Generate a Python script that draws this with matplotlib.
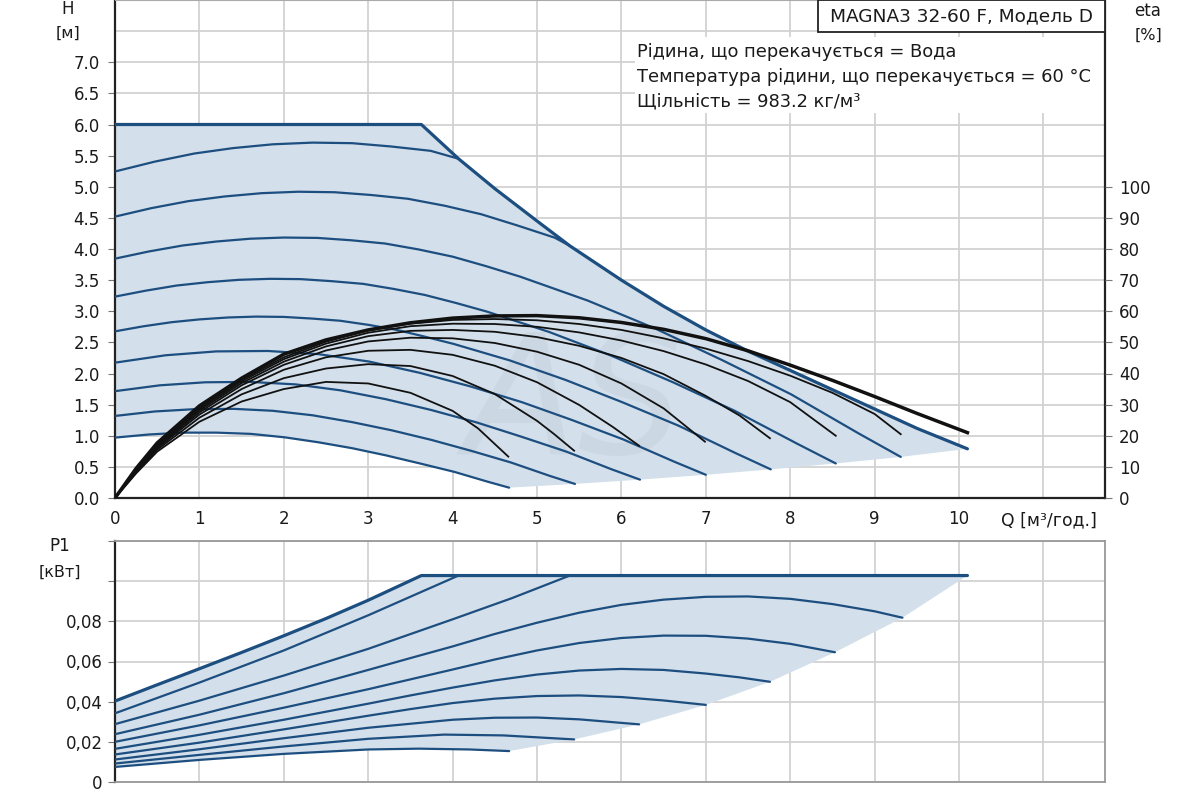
import numpy as np
import matplotlib
matplotlib.use("Agg")
import matplotlib.pyplot as plt
from matplotlib.patches import Rectangle

plt.rcParams["font.family"] = ["DejaVu Sans"]

# --- QH speed curves (Q in m3/h, H in m), lowest to highest ---
curve_q = [
    [0, 0.40, 0.80, 1.20, 1.61, 2.01, 2.41, 2.81, 3.21, 3.61, 4.02, 4.42, 4.67],
    [0, 0.47, 0.94, 1.41, 1.87, 2.34, 2.81, 3.28, 3.75, 4.22, 4.69, 5.15, 5.45],
    [0, 0.53, 1.07, 1.60, 2.14, 2.67, 3.21, 3.74, 4.28, 4.81, 5.35, 5.88, 6.22],
    [0, 0.60, 1.20, 1.81, 2.41, 3.01, 3.61, 4.21, 4.82, 5.42, 6.02, 6.62, 7.00],
    [0, 0.33, 0.67, 1.00, 1.34, 1.67, 2.00, 2.34, 2.67, 3.01, 3.34, 3.67, 4.01, 4.68,
     5.34, 6.01, 6.68, 7.35, 7.77],
    [0, 0.37, 0.73, 1.10, 1.47, 1.84, 2.20, 2.57, 2.94, 3.30, 3.67, 4.04, 4.41, 5.14,
     5.87, 6.61, 7.34, 8.08, 8.54],
    [0, 0.40, 0.80, 1.20, 1.60, 2.00, 2.40, 2.80, 3.20, 3.60, 4.00, 4.40, 4.80, 5.60,
     6.40, 7.20, 8.01, 8.81, 9.31],
    [0, 0.43, 0.87, 1.30, 1.74, 2.17, 2.60, 3.04, 3.47, 3.91, 4.34, 4.77, 5.21, 5.39],
    [0, 0.47, 0.94, 1.40, 1.87, 2.34, 2.81, 3.27, 3.74, 4.07],
]
curve_h = [
    [0.97, 1.02, 1.05, 1.05, 1.03, 0.975, 0.895, 0.80, 0.685, 0.556, 0.42, 0.26, 0.166],
    [1.318, 1.39, 1.427, 1.432, 1.401, 1.329, 1.219, 1.087, 0.933, 0.758, 0.571, 0.356, 0.226],
    [1.716, 1.81, 1.859, 1.865, 1.825, 1.73, 1.587, 1.416, 1.216, 0.987, 0.744, 0.463, 0.295],
    [2.174, 2.293, 2.355, 2.362, 2.311, 2.192, 2.011, 1.793, 1.54, 1.25, 0.942, 0.587, 0.373],
    [2.677, 2.757, 2.824, 2.869, 2.90, 2.914, 2.909, 2.882, 2.847, 2.78, 2.70, 2.592, 2.476,
     2.209, 1.896, 1.539, 1.16, 0.723, 0.46],
    [3.235, 3.332, 3.413, 3.467, 3.505, 3.521, 3.516, 3.483, 3.44, 3.359, 3.262, 3.133, 2.993,
     2.669, 2.292, 1.86, 1.402, 0.874, 0.555],
    [3.845, 3.96, 4.056, 4.12, 4.165, 4.184, 4.178, 4.14, 4.088, 3.992, 3.877, 3.723, 3.556,
     3.172, 2.723, 2.211, 1.666, 1.038, 0.66],
    [4.52, 4.656, 4.769, 4.844, 4.897, 4.92, 4.912, 4.867, 4.807, 4.694, 4.558, 4.377, 4.182, 4.05],
    [5.245, 5.403, 5.534, 5.621, 5.682, 5.709, 5.70, 5.647, 5.577, 5.45],
]
max_q = [0, 3.63, 4.07, 4.5, 5.0, 5.39, 6.0, 6.5, 7.0, 7.5, 8.0, 8.5, 9.0, 9.5, 10.1]
max_h = [6.0, 6.0, 5.45, 4.97, 4.45, 4.05, 3.50, 3.08, 2.70, 2.36, 2.05, 1.74, 1.43, 1.12, 0.79]

# --- efficiency curves (eta %), lowest speed first, last one = max curve ---
eta_q = [
    [0, 0.25, 0.5, 1, 1.5, 2, 2.5, 3, 3.5, 4, 4.3, 4.66],
    [0, 0.25, 0.5, 1, 1.5, 2, 2.5, 3, 3.5, 4, 4.5, 5, 5.2, 5.44],
    [0, 0.25, 0.5, 1, 1.5, 2, 2.5, 3, 3.5, 4, 4.5, 5, 5.5, 5.9, 6.21],
    [0, 0.25, 0.5, 1, 1.5, 2, 2.5, 3, 3.5, 4, 4.5, 5, 5.5, 6, 6.5, 6.99],
    [0, 0.25, 0.5, 1, 1.5, 2, 2.5, 3, 3.5, 4, 4.5, 5, 5.5, 6, 6.5, 7, 7.4, 7.76],
    [0, 0.25, 0.5, 1, 1.5, 2, 2.5, 3, 3.5, 4, 4.5, 5, 5.5, 6, 6.5, 7, 7.5, 8, 8.54],
    [0, 0.25, 0.5, 1, 1.5, 2, 2.5, 3, 3.5, 4, 4.5, 5, 5.5, 6, 6.5, 7, 7.5, 8, 8.5, 9, 9.31],
    [0, 0.25, 0.5, 1, 1.5, 2, 2.5, 3, 3.5, 4, 4.5, 5, 5.5, 6, 6.5, 7, 7.5, 8, 8.5, 9, 9.5, 10.1],
]
eta_v = [
    [0, 7.9, 14.9, 24.5, 31.0, 35.0, 37.3, 36.8, 33.8, 28.0, 22.4, 13.3],
    [0, 8.2, 15.5, 25.8, 33.3, 38.5, 41.6, 43.0, 42.4, 39.2, 33.4, 24.8, 20.6, 15.2],
    [0, 8.5, 16.0, 26.8, 35.0, 41.2, 45.2, 47.3, 47.6, 46.0, 42.5, 37.2, 29.9, 22.8, 16.8],
    [0, 8.7, 16.4, 27.5, 36.2, 42.8, 47.4, 50.3, 51.5, 51.3, 49.8, 47.0, 42.8, 36.8, 28.8, 18.1],
    [0, 8.9, 16.8, 28.1, 36.9, 43.8, 48.7, 52.0, 53.7, 54.0, 53.4, 51.7, 48.9, 45.0, 39.8, 32.8, 26.5, 19.2],
    [0, 9.1, 17.1, 28.6, 37.5, 44.6, 49.6, 53.1, 55.2, 56.0, 55.9, 55.0, 53.2, 50.6, 47.2, 42.9, 37.6, 30.8, 20.0],
    [0, 9.3, 17.4, 29.1, 38.0, 45.2, 50.2, 53.8, 56.0, 57.2, 57.5, 57.1, 55.9, 54.0, 51.3, 48.0, 44.0, 39.3, 33.8, 27.0, 20.5],
    [0, 9.5, 17.7, 29.6, 38.5, 46.2, 50.8, 54.0, 56.3, 57.8, 58.5, 58.6, 57.9, 56.4, 54.2, 51.2, 47.3, 42.7, 37.8, 32.6, 27.2, 21.0],
]

# --- P1 power curves (kW), lowest to highest ---
p1_q = [
    [0, 1, 2, 3, 3.6, 4.2, 4.67],
    [0, 1, 2, 3, 3.9, 4.6, 5.44],
    [0, 1, 2, 3, 4, 4.5, 5.0, 5.5, 6.21],
    [0, 1, 2, 3, 3.5, 4, 4.5, 5.0, 5.5, 6.0, 6.5, 7.0],
    [0, 1, 2, 3, 3.5, 4, 4.5, 5.0, 5.5, 6.0, 6.5, 7.0, 7.4, 7.76],
    [0, 1, 2, 3, 3.5, 4, 4.5, 5.0, 5.5, 6.0, 6.5, 7.0, 7.5, 8.0, 8.53],
    [0, 1, 2, 3, 3.5, 4, 4.5, 5.0, 5.5, 6.0, 6.5, 7.0, 7.5, 8.0, 8.5, 9.0, 9.33],
    [0, 1, 2, 3, 4, 4.7, 5.39],
    [0, 1, 2, 3, 4.07],
]
p1_v = [
    [0.0075, 0.0110, 0.0140, 0.0162, 0.0166, 0.0162, 0.0154],
    [0.0092, 0.0135, 0.0177, 0.0215, 0.0236, 0.0232, 0.0212],
    [0.0112, 0.0163, 0.0218, 0.0270, 0.0310, 0.0320, 0.0321, 0.0312, 0.0287],
    [0.0137, 0.0196, 0.0262, 0.0330, 0.0363, 0.0393, 0.0415, 0.0428, 0.0431, 0.0423,
     0.0406, 0.0384],
    [0.0165, 0.0235, 0.0310, 0.0390, 0.0431, 0.0470, 0.0506, 0.0535, 0.0555, 0.0563,
     0.0558, 0.0540, 0.0521, 0.0499],
    [0.0200, 0.0282, 0.0370, 0.0462, 0.0511, 0.0560, 0.0610, 0.0655, 0.0692, 0.0717,
     0.0729, 0.0728, 0.0714, 0.0688, 0.0646],
    [0.0238, 0.0335, 0.0442, 0.0558, 0.0617, 0.0675, 0.0737, 0.0793, 0.0843, 0.0882,
     0.0908, 0.0922, 0.0924, 0.0912, 0.0886, 0.0850, 0.0818],
    [0.0288, 0.0405, 0.0530, 0.0663, 0.0810, 0.0915, 0.1028],
    [0.0342, 0.0495, 0.0655, 0.0830, 0.1028],
]
p1_max_q = [0, 0.5, 1, 1.5, 2, 2.5, 3, 3.63, 10.1]
p1_max_v = [0.0403, 0.0484, 0.0564, 0.0645, 0.0728, 0.0814, 0.0905, 0.1028, 0.1028]

h_ticks = np.arange(0, 7.01, 0.5)
eta_ticks = np.arange(0, 101, 10)
q_ticks = np.arange(0, 12)
p_ticks = [0, 0.02, 0.04, 0.06, 0.08, 0.10, 0.12]
p_labels = ["0", "0,02", "0,04", "0,06", "0,08", "", ""]

BLUE = "#1d4e80"
FILL = "#d3dfea"
GRID = "#d2d2d2"
TXT = "#1a1a1a"
FS = 12

W, H = 1200, 800
fig = plt.figure(figsize=(12, 8), dpi=100)


def px(x0, y0, x1, y1):
    return [x0 / W, 1 - y1 / H, (x1 - x0) / W, (y1 - y0) / H]


ax = fig.add_axes(px(115, 0, 1105, 498))
ax.set_xlim(0, 11.73)
ax.set_ylim(0, 8.0)
ax.set_axisbelow(True)

# shaded operating area
ends_q = [q[-1] for q in curve_q[:7]]
ends_h = [h[-1] for h in curve_h[:7]]
poly_q = list(max_q) + ends_q[::-1] + curve_q[0][::-1]
poly_h = list(max_h) + ends_h[::-1] + curve_h[0][::-1]
ax.fill(poly_q, poly_h, color=FILL, lw=0, zorder=1)

ax.text(5.45, 1.45, "AS", fontsize=120, fontstyle="italic", color="#8a96a3",
        alpha=0.10, ha="center", va="center", zorder=1.2)

for q, h in zip(curve_q, curve_h):
    ax.plot(q, h, color=BLUE, lw=1.6, zorder=3, solid_capstyle="round")
ax.plot(max_q, max_h, color=BLUE, lw=2.3, zorder=3.5, solid_capstyle="round")

ax.set_xticks(q_ticks)
ax.set_xticklabels([str(v) for v in q_ticks[:-1]] + [""])
ax.set_yticks(h_ticks)
ax.set_yticklabels([f"{v:.1f}" for v in h_ticks])
ax.set_yticks([7.5], minor=True)
ax.grid(True, which="both", color=GRID, lw=1.3)
ax.tick_params(axis="x", length=0, pad=9, labelsize=FS, labelcolor=TXT)
ax.tick_params(axis="y", which="major", direction="out", length=5, color="#777",
               pad=6, labelsize=FS, labelcolor=TXT)
ax.tick_params(axis="y", which="minor", length=0)
for s in ["left", "bottom", "right"]:
    ax.spines[s].set_color("#222")
    ax.spines[s].set_linewidth(1.6)
ax.spines["top"].set_color("#aaa")

ax2 = ax.twinx()
ax2.set_ylim(0, 160)
for q, e in zip(eta_q[:-1], eta_v[:-1]):
    ax2.plot(q, e, color="#111", lw=1.3, zorder=4)
ax2.plot(eta_q[-1], eta_v[-1], color="#111", lw=2.5, zorder=4)
ax2.set_yticks(eta_ticks)
ax2.tick_params(axis="y", direction="out", length=5, color="#777", pad=5,
                labelsize=FS, labelcolor=TXT)
for s in ax2.spines.values():
    s.set_visible(False)

# white panel behind the fluid info, and the title box
ax.add_patch(Rectangle((0.525, 0.773), 0.475, 0.153, transform=ax.transAxes,
                       fc="white", ec="none", zorder=2))
ax.add_patch(Rectangle((0.710, 0.936), 0.290, 0.064, transform=ax.transAxes,
                       fc="white", ec="#222", lw=1.3, zorder=5, clip_on=False))
ax.text(0.855, 0.968, "MAGNA3 32-60 F, Модель D", transform=ax.transAxes,
        ha="center", va="center", fontsize=13.3, color=TXT, zorder=6)
info = ["Рідина, що перекачується = Вода",
        "Температура рідини, що перекачується = 60 °C",
        "Щільність = 983.2 кг/м³"]
for i, line in enumerate(info):
    ax.text(0.527, 0.896 - i * 0.050, line, transform=ax.transAxes,
            ha="left", va="center", fontsize=12.9, color=TXT, zorder=6)

# --- bottom: P1 ---
axp = fig.add_axes(px(115, 541, 1105, 782))
axp.set_xlim(0, 11.73)
axp.set_ylim(0, 0.12)
axp.set_axisbelow(True)

pend_q = [q[-1] for q in p1_q[:7]]
pend_v = [v[-1] for v in p1_v[:7]]
ppoly_q = list(p1_max_q) + pend_q[::-1] + p1_q[0][::-1]
ppoly_v = list(p1_max_v) + pend_v[::-1] + p1_v[0][::-1]
axp.fill(ppoly_q, ppoly_v, color=FILL, lw=0, zorder=1)
for q, v in zip(p1_q, p1_v):
    axp.plot(q, v, color=BLUE, lw=1.6, zorder=3, solid_capstyle="round")
axp.plot(p1_max_q, p1_max_v, color=BLUE, lw=2.3, zorder=3.5, solid_capstyle="round")

axp.set_xticks(q_ticks)
axp.set_xticklabels([])
axp.set_yticks(p_ticks)
axp.set_yticklabels(p_labels)
axp.grid(True, color=GRID, lw=1.3)
axp.tick_params(axis="x", length=0)
axp.tick_params(axis="y", direction="out", length=5, color="#777", pad=4,
                labelsize=FS, labelcolor=TXT)
axp.spines["left"].set_color("#222")
axp.spines["left"].set_linewidth(1.6)
for s in ["top", "right", "bottom"]:
    axp.spines[s].set_color("#999")
    axp.spines[s].set_linewidth(1.3)

# axis captions
fig.text(68 / W, 1 - 9 / H, "H", ha="center", va="center", fontsize=FS, color=TXT)
fig.text(68 / W, 1 - 33 / H, "[м]", ha="center", va="center", fontsize=11.5, color=TXT)
fig.text(1148 / W, 1 - 11 / H, "eta", ha="center", va="center", fontsize=FS, color=TXT)
fig.text(1148 / W, 1 - 35 / H, "[%]", ha="center", va="center", fontsize=11.5, color=TXT)
fig.text(1097 / W, 1 - 520 / H, "Q [м³/год.]", ha="right", va="center", fontsize=12.4, color=TXT)
fig.text(60 / W, 1 - 546 / H, "P1", ha="center", va="center", fontsize=FS, color=TXT)
fig.text(60 / W, 1 - 572 / H, "[кВт]", ha="center", va="center", fontsize=11.5, color=TXT)

fig.savefig("out.png", dpi=100, facecolor="white")
